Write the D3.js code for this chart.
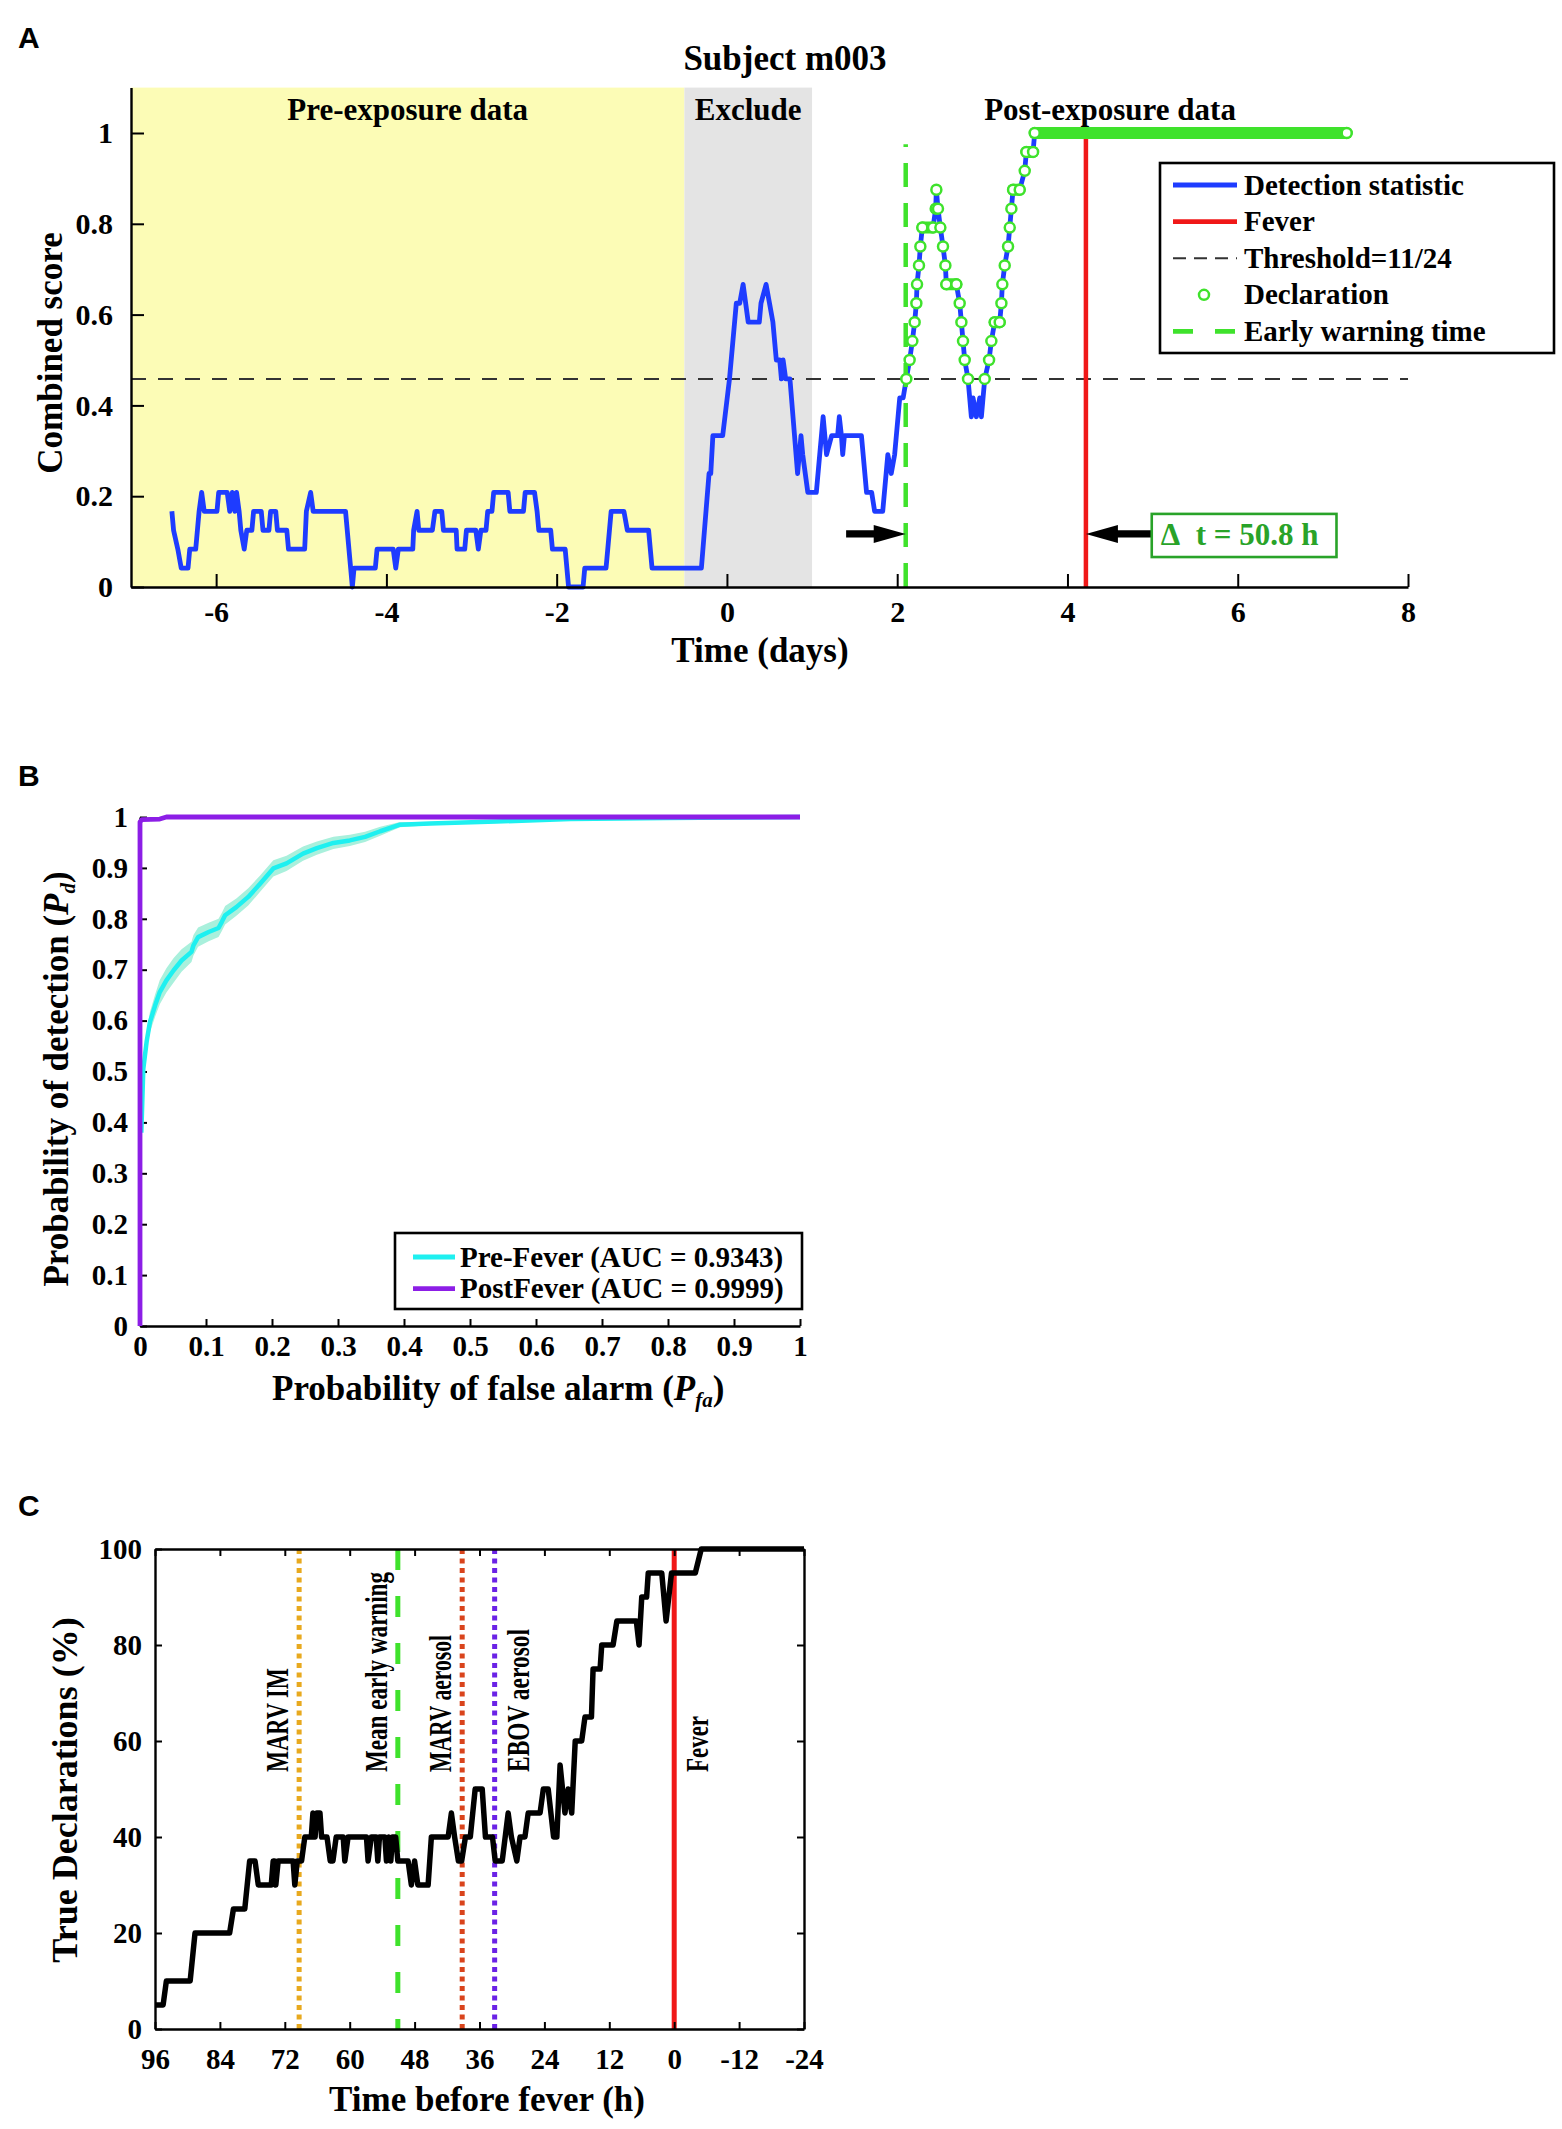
<!DOCTYPE html>
<html>
<head>
<meta charset="utf-8">
<script src="https://cdn.jsdelivr.net/npm/d3@7"></script>
<style>
body { margin: 0; background: #fff; }
svg text { font-family: "Liberation Serif", "Times New Roman", serif; font-weight: bold; }
svg text.panel { font-family: "Liberation Sans", Arial, sans-serif; }
</style>
</head>
<body>
<svg id="fig" width="1562" height="2129"></svg>
<script>
// ---- panel A: detection statistic of subject m003 (score = count/24)
var detDay = [-6.52,-6.50,-6.45,-6.41,-6.33,-6.31,-6.24,-6.20,-6.17,-6.14,-5.99,-5.97,-5.87,-5.84,-5.81,-5.78,-5.76,-5.73,-5.71,-5.67,
  -5.64,-5.58,-5.56,-5.47,-5.45,-5.38,-5.36,-5.30,-5.28,-5.17,-5.15,-4.96,-4.94,-4.89,-4.86,-4.48,-4.42,-4.40,-4.38,-4.13,
  -4.11,-3.92,-3.89,-3.86,-3.69,-3.68,-3.64,-3.62,-3.46,-3.43,-3.35,-3.33,-3.18,-3.17,-3.08,-3.06,-2.95,-2.92,-2.89,-2.83,
  -2.81,-2.76,-2.74,-2.57,-2.55,-2.39,-2.37,-2.26,-2.23,-2.21,-2.07,-2.05,-1.90,-1.86,-1.69,-1.67,-1.42,-1.40,-1.36,-1.21,
  -1.17,-0.92,-0.90,-0.88,-0.30,-0.21,-0.19,-0.165,-0.05,0.03,0.11,0.15,0.19,0.25,0.38,0.40,0.46,0.50,0.54,0.58,
  0.62,0.64,0.66,0.69,0.74,0.83,0.87,0.89,0.95,1.05,1.09,1.13,1.17,1.23,1.30,1.32,1.345,1.36,1.38,1.58,
  1.64,1.70,1.735,1.83,1.89,1.93,1.97,2.03,2.07,2.107,2.146,2.178,2.205,2.225,2.233,2.256,2.272,2.295,2.421,2.452,
  2.46,2.479,2.507,2.538,2.566,2.577,2.695,2.734,2.754,2.773,2.793,2.832,2.871,2.891,2.93,2.969,2.989,3.028,3.079,3.106,
  3.145,3.204,3.224,3.235,3.263,3.302,3.322,3.341,3.361,3.439,3.498,3.517,3.596,3.615,7.28];
var detCount = [4,3,2,1,1,2,2,4,5,4,4,5,5,4,5,4,5,4,3,2,
  3,3,4,4,3,3,4,4,3,3,2,2,4,5,4,4,1,0,1,1,
  2,2,1,2,2,3,4,3,3,4,4,3,3,2,2,3,3,2,3,3,
  4,4,5,5,4,4,5,5,4,3,3,2,2,0,0,1,1,2,4,4,
  3,3,2,1,1,6,6,8,8,11,15,15,16,14,14,15,16,15,14,12,
  12,11,12,11,11,6,8,7,5,5,7,9,7,8,8,9,8,7,8,8,
  5,5,4,4,7,6,7,10,10,11,12,13,14,15,16,17,18,19,19,20,
  21,20,19,18,17,16,16,15,14,13,12,11,9,10,9,10,9,11,12,13,
  14,14,15,16,17,18,19,20,21,21,22,23,23,24,24];
var scoreDenom = 24;
var thresholdCount = 11;
var warningDay = 2.10;
var deltaHours = 50.8;
var feverDay = warningDay + deltaHours / 24;
var regionNames = ["Pre-exposure data", "Exclude", "Post-exposure data"];
var regionFrom = [-7, -0.5, 1];
var regionTo = [-0.5, 1, 8];
var dayTicks = [-6, -4, -2, 0, 2, 4, 6, 8];
var scoreTicks = [0, 0.2, 0.4, 0.6, 0.8, 1];
var legendA = ["Detection statistic", "Fever", "Threshold=11/24", "Declaration", "Early warning time"];

// ---- panel B: ROC curves
var preFa = [0.002,0.005,0.010,0.015,0.023,0.030,0.040,0.051,0.063,0.078,0.081,0.088,0.104,0.119,0.124,0.129,0.146,
  0.164,0.182,0.202,0.222,0.247,0.268,0.293,0.318,0.341,0.364,0.394,0.439,0.54,0.652,0.8,1.0];
var prePd = [0.38,0.505,0.558,0.597,0.63,0.656,0.679,0.699,0.718,0.735,0.748,0.764,0.774,0.782,0.794,0.807,0.823,
  0.843,0.869,0.899,0.909,0.928,0.939,0.949,0.954,0.961,0.972,0.985,0.987,0.991,0.996,0.998,1.0];
var preSpread = [0.006,0.012,0.016,0.020,0.022,0.024,0.024,0.024,0.022,0.020,0.020,0.019,0.018,0.018,0.018,0.018,0.017,
  0.017,0.016,0.016,0.015,0.014,0.013,0.012,0.011,0.010,0.009,0.005,0.003,0.002,0.002,0.001,0];
var postFa = [0, 0, 0.003, 0.03, 0.04, 1];
var postPd = [0, 0.99, 0.995, 0.996, 1, 1];
var probTicks = [0, 0.1, 0.2, 0.3, 0.4, 0.5, 0.6, 0.7, 0.8, 0.9, 1];
var legendB = ["Pre-Fever (AUC = 0.9343)", "PostFever (AUC = 0.9999)"];

// ---- panel C: true declarations vs time before fever
var hBefore = [96,94.5,93.9,89.5,88.6,82.2,81.5,79.4,78.5,77.5,76.9,74.5,74.15,73.9,73.66,73.23,70.46,70.15,69.7,68.9,
  68.3,67.1,66.8,66.4,66.1,65.5,65.2,64.2,63.6,63.1,62.5,61.2,60.9,60.3,56.9,56.6,56.0,55.1,54.8,54.5,
  53.5,53.2,52.8,52.4,52.1,51.5,51.1,49.2,48.6,48.0,47.4,45.5,44.9,41.8,41.2,40.6,39.9,39.3,38.6,37.7,
  36.8,35.5,34.9,33.6,33.1,31.8,30.7,30.1,29.1,28.5,27.6,27.0,24.8,24.2,23.3,22.3,21.7,21.1,20.2,19.6,
  18.95,18.3,17.1,16.5,15.3,15.0,13.7,13.4,11.3,10.6,7.0,6.5,6.0,5.1,4.8,2.3,1.5,0.5,-3.9,-5.0,-24];
var pctDeclared = [5,5,10,10,20,20,25,25,35,35,30,30,35,35,30,35,35,30,35,35,
  40,40,45,40,45,45,40,40,35,35,40,40,35,40,40,35,40,40,35,40,
  40,35,40,35,40,40,35,35,30,35,30,30,40,40,45,40,35,35,40,40,
  50,50,40,40,35,35,45,40,35,40,40,45,45,50,50,40,40,55,45,50,
  45,60,60,65,65,75,75,80,80,85,85,80,90,90,95,95,85,95,95,100,100];
var eventNames = ["MARV IM", "Mean early warning", "MARV aerosol", "EBOV aerosol", "Fever"];
var eventHours = [69.35, 51.1, 39.2, 33.2, 0];
var hourTicks = [96, 84, 72, 60, 48, 36, 24, 12, 0, -12, -24];
var pctTicks = [0, 20, 40, 60, 80, 100];

// ---- colours / styles
var BLUE = "#1e3cff", RED = "#f01818", GREEN = "#3fe22c", DGREEN = "#29a329";
var CYAN = "#1ef0f0", BAND = "#a9f0dc", PURPLE = "#8c1ee6";
var eventStyle = {
  "MARV IM":            {color: "#e8a91e", dash: "5,4.5", side: -1, len: 104},
  "Mean early warning": {color: GREEN,     dash: "21,26", side: -1, len: 200},
  "MARV aerosol":       {color: "#d9441c", dash: "5,4.5", side: -1, len: 137},
  "EBOV aerosol":       {color: "#6a22e6", dash: "5,4.5", side: 1,  len: 143},
  "Fever":              {color: RED,       dash: null,    side: 1,  len: 56}
};

var svg = d3.select("#fig");
svg.append("rect").attr("width", 1562).attr("height", 2129).attr("fill", "#fff");

function styleAxis(g, size) {
  g.attr("font-size", size).attr("font-family", null);
  g.select(".domain").attr("stroke", "#000").attr("stroke-width", 2.4);
  g.selectAll(".tick line").attr("stroke", "#000").attr("stroke-width", 2);
  g.selectAll(".tick text").attr("fill", "#000");
}

// ================= PANEL A =================
var xA = d3.scaleLinear().domain([-7, 8]).range([131, 1408]);
var yA = d3.scaleLinear().domain([0, 1.1]).range([587, 87.6]);
var gA = svg.append("g");

var regionFill = ["#fcfcb6", "#e4e4e4", "none"];
gA.selectAll("rect.region").data(regionNames).join("rect")
  .attr("class", "region")
  .attr("x", (d, i) => xA(regionFrom[i]))
  .attr("width", (d, i) => xA(regionTo[i]) - xA(regionFrom[i]))
  .attr("y", yA(1.1)).attr("height", yA(0) - yA(1.1))
  .attr("fill", (d, i) => regionFill[i]);

var thr = thresholdCount / scoreDenom;
gA.append("line")
  .attr("x1", xA(-7)).attr("x2", xA(8)).attr("y1", yA(thr)).attr("y2", yA(thr))
  .attr("stroke", "#333").attr("stroke-width", 2).attr("stroke-dasharray", "15,12");

var det = detDay.map((t, i) => ({t: t, n: detCount[i]}));
var lineA = d3.line().x(d => xA(d.t)).y(d => yA(d.n / scoreDenom));
gA.append("path").attr("d", lineA(det))
  .attr("fill", "none").attr("stroke", BLUE).attr("stroke-width", 4.8).attr("stroke-linejoin", "round");

gA.append("line").attr("x1", xA(feverDay)).attr("x2", xA(feverDay)).attr("y1", yA(0)).attr("y2", yA(1))
  .attr("stroke", RED).attr("stroke-width", 4.5);
gA.append("line").attr("x1", xA(warningDay)).attr("x2", xA(warningDay)).attr("y1", yA(0)).attr("y2", yA(0.975))
  .attr("stroke", GREEN).attr("stroke-width", 4.5).attr("stroke-dasharray", "24,16");

// declarations: samples after the warning time that are at or above threshold
var decl = det.filter(d => d.t >= warningDay && d.n >= thresholdCount);
var shelves = [];
for (var i = 1; i < det.length; i++) {
  var a = det[i - 1], b = det[i];
  if (a.t >= warningDay && a.n >= thresholdCount && a.n === b.n) shelves.push([a, b]);
}
gA.selectAll("line.shelf").data(shelves).join("line").attr("class", "shelf")
  .attr("x1", d => xA(d[0].t)).attr("x2", d => xA(d[1].t))
  .attr("y1", d => yA(d[0].n / scoreDenom)).attr("y2", d => yA(d[1].n / scoreDenom))
  .attr("stroke", GREEN).attr("stroke-width", 12).attr("stroke-linecap", "round");
gA.selectAll("circle.decl").data(decl).join("circle").attr("class", "decl")
  .attr("cx", d => xA(d.t)).attr("cy", d => yA(d.n / scoreDenom)).attr("r", 5)
  .attr("fill", "#fff").attr("stroke", GREEN).attr("stroke-width", 2.5);

// region labels and title
gA.selectAll("text.region").data(regionNames).join("text").attr("class", "region")
  .attr("x", (d, i) => xA((regionFrom[i] + regionTo[i]) / 2)).attr("y", 120)
  .attr("text-anchor", "middle").attr("font-size", 31).text(d => d);
gA.append("text").attr("x", 785).attr("y", 70).attr("text-anchor", "middle")
  .attr("font-size", 35).text("Subject m003");

// axes
var axAx = gA.append("g").attr("transform", "translate(0," + yA(0) + ")")
  .call(d3.axisBottom(xA).tickValues(dayTicks).tickSize(-13).tickSizeOuter(0).tickPadding(14).tickFormat(d => String(d)));
styleAxis(axAx, 30);
var axAy = gA.append("g").attr("transform", "translate(" + xA(-7) + ",0)")
  .call(d3.axisLeft(yA).tickValues(scoreTicks).tickSize(-13).tickSizeOuter(0).tickPadding(18).tickFormat(d => String(d)));
styleAxis(axAy, 30);
gA.append("text").attr("transform", "translate(62,353) rotate(-90)").attr("text-anchor", "middle")
  .attr("font-size", 35).text("Combined score");
gA.append("text").attr("x", 760).attr("y", 662).attr("text-anchor", "middle")
  .attr("font-size", 35).text("Time (days)");

// legend A
var legA = gA.append("g");
legA.append("rect").attr("x", 1160).attr("y", 163).attr("width", 394).attr("height", 190)
  .attr("fill", "#fff").attr("stroke", "#000").attr("stroke-width", 2.6);
legendA.forEach(function (lab, i) {
  var y = 185 + i * 36.6;
  if (i === 3) {
    legA.append("circle").attr("cx", 1204).attr("cy", y).attr("r", 5)
      .attr("fill", "#fff").attr("stroke", GREEN).attr("stroke-width", 2.5);
  } else {
    var col = [BLUE, RED, "#333", null, GREEN][i];
    var ln = legA.append("line").attr("x1", 1173).attr("x2", 1237).attr("y1", y).attr("y2", y)
      .attr("stroke", col).attr("stroke-width", i === 2 ? 2 : 4.8);
    if (i === 2) ln.attr("stroke-dasharray", "13,8");
    if (i === 4) ln.attr("stroke-dasharray", "20,22");
  }
  legA.append("text").attr("x", 1244).attr("y", y).attr("dy", "0.33em").attr("font-size", 29).text(lab);
});

// early-warning arrows and delta-t box
function arrow(g, xFrom, xTo, y) {
  var dir = xTo > xFrom ? 1 : -1, head = 32, hw = 9, sw = 3.6;
  var xh = xTo - dir * head;
  g.append("path")
    .attr("d", "M" + xFrom + "," + (y - sw) + "L" + xh + "," + (y - sw) + "L" + xh + "," + (y - hw) +
      "L" + xTo + "," + y + "L" + xh + "," + (y + hw) + "L" + xh + "," + (y + sw) + "L" + xFrom + "," + (y + sw) + "Z")
    .attr("fill", "#000");
}
var arrowY = yA(0.117);
arrow(gA, xA(1.40), xA(warningDay), arrowY);
arrow(gA, xA(4.99), xA(feverDay), arrowY);
gA.append("rect").attr("x", xA(4.99)).attr("y", yA(0.161)).attr("width", xA(7.16) - xA(4.99))
  .attr("height", yA(0.066) - yA(0.161)).attr("fill", "#fff").attr("stroke", DGREEN).attr("stroke-width", 2.6);
gA.append("text").attr("x", xA(4.99) + 9).attr("y", 545).attr("font-size", 31).attr("fill", DGREEN)
  .text("\u0394\u00a0 t = " + deltaHours.toFixed(1) + " h");

svg.append("text").attr("class", "panel").attr("x", 18).attr("y", 48).attr("font-size", 30).text("A");

// ================= PANEL B =================
var xB = d3.scaleLinear().domain([0, 1]).range([140, 800]);
var yB = d3.scaleLinear().domain([0, 1]).range([1326, 817]);
var gB = svg.append("g");

var axBx = gB.append("g").attr("transform", "translate(0," + yB(0) + ")")
  .call(d3.axisBottom(xB).tickValues(probTicks).tickSize(-7).tickSizeOuter(0).tickPadding(9.5).tickFormat(d => String(d)));
styleAxis(axBx, 29);
var axBy = gB.append("g").attr("transform", "translate(" + xB(0) + ",0)")
  .call(d3.axisLeft(yB).tickValues(probTicks).tickSize(-7).tickSizeOuter(0).tickPadding(12).tickFormat(d => String(d)));
styleAxis(axBy, 29);

var pre = preFa.map((f, i) => ({f: f, p: prePd[i], s: preSpread[i]}));
gB.append("path")
  .attr("d", d3.area().x(d => xB(d.f)).y0(d => yB(d.p - d.s)).y1(d => yB(Math.min(1, d.p + d.s)))(pre))
  .attr("fill", BAND);
gB.append("path").attr("d", d3.line().x(d => xB(d.f)).y(d => yB(d.p))(pre))
  .attr("fill", "none").attr("stroke", CYAN).attr("stroke-width", 4.5).attr("stroke-linejoin", "round");
var post = postFa.map((f, i) => ({f: f, p: postPd[i]}));
gB.append("path").attr("d", d3.line().x(d => xB(d.f)).y(d => yB(d.p))(post))
  .attr("fill", "none").attr("stroke", PURPLE).attr("stroke-width", 4.8).attr("stroke-linejoin", "round");

// legend B
gB.append("rect").attr("x", 395).attr("y", 1233).attr("width", 407).attr("height", 76)
  .attr("fill", "#fff").attr("stroke", "#000").attr("stroke-width", 2.6);
legendB.forEach(function (lab, i) {
  var y = 1257 + i * 31.7;
  gB.append("line").attr("x1", 413).attr("x2", 455).attr("y1", y).attr("y2", y)
    .attr("stroke", i === 0 ? CYAN : PURPLE).attr("stroke-width", 4.8);
  gB.append("text").attr("x", 460).attr("y", y).attr("dy", "0.33em").attr("font-size", 29).text(lab);
});

function subLabel(t, main, sub) {
  t.append("tspan").text(main + "(");
  t.append("tspan").attr("font-style", "italic").text("P");
  t.append("tspan").attr("font-style", "italic").attr("font-size", 21).attr("dy", 7).text(sub);
  t.append("tspan").attr("dy", -7).text(")");
}
subLabel(gB.append("text").attr("transform", "translate(68,1079) rotate(-90)").attr("text-anchor", "middle")
  .attr("font-size", 35), "Probability of detection ", "d");
subLabel(gB.append("text").attr("x", 272).attr("y", 1400).attr("font-size", 35),
  "Probability of false alarm ", "fa");

svg.append("text").attr("class", "panel").attr("x", 18).attr("y", 786).attr("font-size", 30).text("B");

// ================= PANEL C =================
var xC = d3.scaleLinear().domain([96, -24]).range([155, 804]);
var yC = d3.scaleLinear().domain([0, 100]).range([2029, 1549]);
var gC = svg.append("g");

eventNames.forEach(function (name, i) {
  var st = eventStyle[name], x = xC(eventHours[i]);
  var ln = gC.append("line").attr("x1", x).attr("x2", x).attr("y1", yC(100)).attr("y2", yC(0))
    .attr("stroke", st.color).attr("stroke-width", 5);
  if (st.dash) ln.attr("stroke-dasharray", st.dash);
  var bx = st.side < 0 ? x - 11 : x + 34;
  gC.append("text").attr("transform", "translate(" + bx + ",1772) rotate(-90)")
    .attr("font-size", 31).attr("textLength", st.len).attr("lengthAdjust", "spacingAndGlyphs").text(name);
});

var decC = hBefore.map((h, i) => ({h: h, p: pctDeclared[i]}));
gC.append("path").attr("d", d3.line().x(d => xC(d.h)).y(d => yC(d.p))(decC))
  .attr("fill", "none").attr("stroke", "#000").attr("stroke-width", 5.5).attr("stroke-linejoin", "round");

var axCx = gC.append("g").attr("transform", "translate(0," + yC(0) + ")")
  .call(d3.axisBottom(xC).tickValues(hourTicks).tickSize(-7).tickSizeOuter(0).tickPadding(19).tickFormat(d => String(d)));
styleAxis(axCx, 29);
var axCt = gC.append("g").attr("transform", "translate(0," + yC(100) + ")")
  .call(d3.axisTop(xC).tickValues(hourTicks).tickSize(-7).tickSizeOuter(0).tickFormat(""));
styleAxis(axCt, 29);
var axCy = gC.append("g").attr("transform", "translate(" + xC(96) + ",0)")
  .call(d3.axisLeft(yC).tickValues(pctTicks).tickSize(-7).tickSizeOuter(0).tickPadding(13).tickFormat(d => String(d)));
styleAxis(axCy, 29);
var axCr = gC.append("g").attr("transform", "translate(" + xC(-24) + ",0)")
  .call(d3.axisRight(yC).tickValues(pctTicks).tickSize(-7).tickSizeOuter(0).tickFormat(""));
styleAxis(axCr, 29);

gC.append("text").attr("transform", "translate(77,1790) rotate(-90)").attr("text-anchor", "middle")
  .attr("font-size", 36).text("True Declarations (%)");
gC.append("text").attr("x", 487).attr("y", 2111).attr("text-anchor", "middle")
  .attr("font-size", 35).text("Time before fever (h)");

svg.append("text").attr("class", "panel").attr("x", 18).attr("y", 1516).attr("font-size", 30).text("C");
</script>
</body>
</html>
